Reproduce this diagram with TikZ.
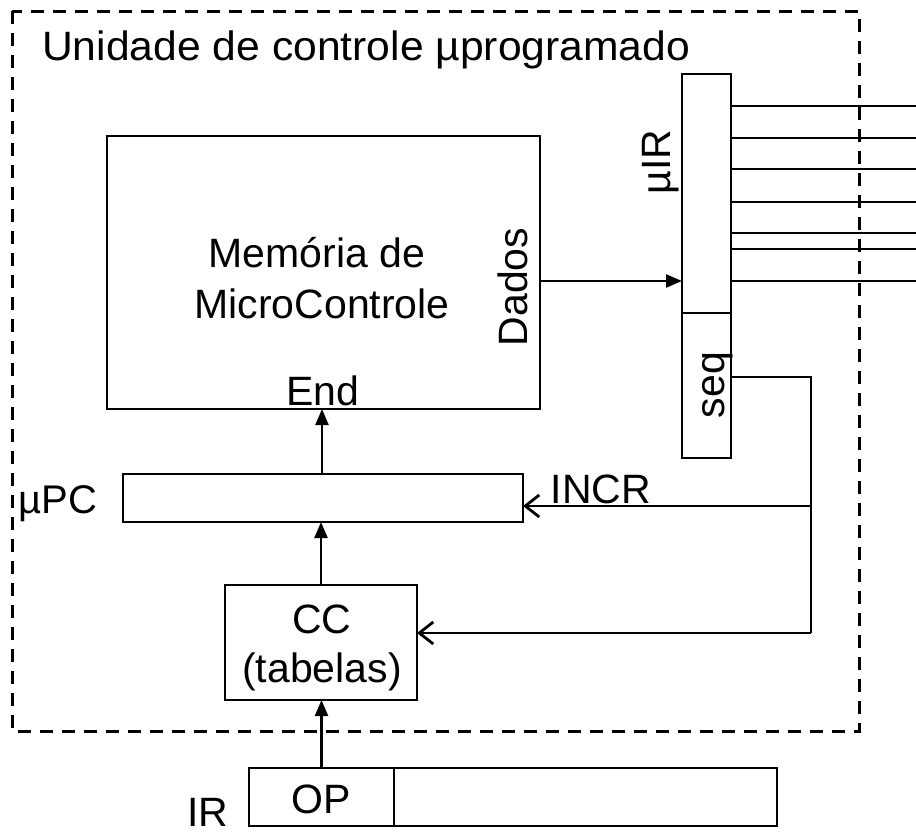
\documentclass[tikz,border=0pt]{standalone}
\usepackage{fontspec}
\setmainfont{Liberation Sans}
\usetikzlibrary{arrows.meta}
\begin{document}
\begin{tikzpicture}[x=1pt,y=-1pt,
  box/.style={draw, line width=2.3pt, inner sep=0pt, outer sep=0pt},
  lbl/.style={inner sep=0pt, anchor=base, font=\fontsize{41}{48}\selectfont},
  wire/.style={line width=2.3pt},
  fillarrow/.style={wire, -{Triangle[length=16pt,width=13pt]}},
  openarrow/.style={wire, -{Straight Barb[length=14pt,width=22pt,line width=2.8pt]}}]
\useasboundingbox (0,0) rectangle (916,833);
% outer dashed frame
\draw[line width=3pt, dash pattern=on 13pt off 9pt] (12,11) rectangle (859,731);
\node[lbl, anchor=base west, xscale=1.04] (title) at (42,60) {Unidade de controle µprogramado};
% memory
\node[box, minimum width=433pt, minimum height=273pt] (mem) at (323.5,272.5) {};
\node[lbl] (memtxt1) at (317,267) {Memória de};
\node[lbl] (memtxt2) at (322,318) {MicroControle};
\node[lbl, rotate=90] (dados) at (527,287) {Dados};
\node[lbl] (end) at (323,405) {End};
% micro IR
\node[box, minimum width=49pt, minimum height=239pt] (uir) at (706.5,193.5) {};
\node[box, minimum width=49pt, minimum height=145pt] (seq) at (706.5,385.5) {};
\node[lbl, rotate=90] (uirtxt) at (670,162) {µIR};
\node[lbl, rotate=90] (seqtxt) at (724,385) {seq};
% micro PC
\node[box, minimum width=400pt, minimum height=48pt] (upc) at (323,498) {};
\node[lbl, font=\fontsize{40}{46}\selectfont] (upctxt) at (58,513) {µPC};
\node[lbl] (incr) at (601,503) {INCR};
% CC
\node[box, minimum width=192pt, minimum height=115pt] (cc) at (321,642.5) {};
\node[lbl] (cctxt1) at (322,633) {CC};
\node[lbl] (cctxt2) at (322,682) {(tabelas)};
% IR
\node[box, minimum width=145pt, minimum height=58pt] (op) at (321.5,797) {};
\node[box, minimum width=383pt, minimum height=58pt, anchor=west] (irrest) at (op.east) {};
\node[lbl] (optxt) at (321.5,813) {OP};
\node[lbl] (irtxt) at (208,826) {IR};
% arrows up
\draw[fillarrow] (op.north) -- (op.north |- cc.south);
\draw[fillarrow] (cc.north) -- (cc.north |- upc.south);
\draw[fillarrow] (upc.north -| 322,0) -- (322,0 |- mem.south);
% Dados -> uIR
\coordinate (dy) at (0,281);
\draw[fillarrow] (mem.east |- dy) -- (uir.west |- dy);
% output signals
\foreach \yy [count=\i] in {106,138,169,202,233,249,281} {
  \coordinate (sigend\i) at (916,\yy);
  \draw[wire] (uir.east |- sigend\i) -- (sigend\i);
}
% seq feedback
\coordinate (sq) at (811,377);
\coordinate (br) at (811,506);
\coordinate (bt) at (811,633);
\draw[wire] (seq.east |- sq) -- (sq) -- (bt);
\draw[openarrow] (bt) -- (cc.east |- bt);
\draw[openarrow] (br) -- (upc.east |- br);
\end{tikzpicture}
\end{document}
